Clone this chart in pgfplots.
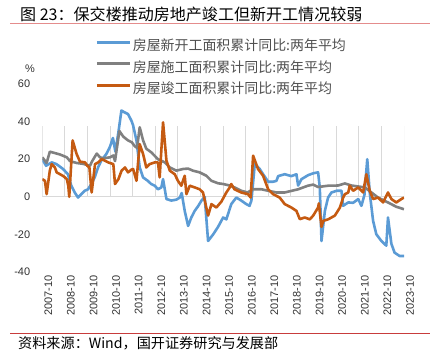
\documentclass[border=0pt]{standalone}
\usepackage{pgfplots}
\pgfplotsset{compat=1.18}
\usepackage{fontspec}
\setmainfont{Liberation Sans}
\newfontfamily\cjk{Noto Sans CJK SC}
\definecolor{sblue}{RGB}{91,155,213}
\definecolor{sgray}{RGB}{128,128,128}
\definecolor{sorange}{RGB}{197,90,17}
\definecolor{zeroc}{RGB}{217,217,217}
\definecolor{ticktext}{RGB}{50,50,50}
\definecolor{legtext}{RGB}{80,80,80}
\definecolor{titleline}{RGB}{228,140,140}
\definecolor{srcline}{RGB}{200,60,60}
\begin{document}
\begin{tikzpicture}[x=1bp,y=1bp]
\useasboundingbox (0,0) rectangle (430,359);
\node[anchor=west, inner sep=0pt] at (20,345) {\cjk\fontsize{16.1}{16}\selectfont 图 23：保交楼推动房地产竣工但新开工情况较弱};
\draw[titleline, line width=1.6bp] (10,335.5) -- (430,335.5);
\node[anchor=center, inner sep=0pt, text=ticktext] at (30,290.5) {\fontsize{11}{11}\selectfont\%};
\draw[srcline, line width=0.9bp] (10,26) -- (430,26);
\node[anchor=west, inner sep=0pt] at (18,16) {\cjk\fontsize{14.2}{14}\selectfont 资料来源：Wind，国开证券研究与发展部};
\begin{axis}[
  at={(42.3bp,87bp)}, anchor=south west, scale only axis,
  width=361.7bp, height=188bp,
  xmin=0, xmax=192, ymin=-40, ymax=60,
  axis line style={draw=none},
  xtick={0,12,...,192},
  xticklabels={2007-10,2008-10,2009-10,2010-10,2011-10,2012-10,2013-10,2014-10,2015-10,2016-10,2017-10,2018-10,2019-10,2020-10,2021-10,2022-10,2023-10},
  ytick={-40,-20,0,20,40,60},
  xtick style={draw=none}, ytick style={draw=none},
  /pgf/number format/assume math mode=true,
  x tick label style={rotate=90, anchor=east, font=\fontsize{11}{11}\selectfont, text=ticktext, yshift=-6bp},
  y tick label style={font=\fontsize{11}{11}\selectfont, text=ticktext, xshift=-8.6bp},
  legend style={at={(rel axis cs:0.146,1.245)}, anchor=north west, draw=none, fill=none,
    inner sep=0pt, row sep=4.5bp, font=\cjk\fontsize{14}{14}\selectfont, text=legtext,
    nodes={inner sep=1.5bp, text height=11bp, text depth=3bp}},
  legend cell align=left,
  legend image code/.code={\draw[#1, line width=3bp] (0bp,4.5bp) -- (33bp,4.5bp);},
  every axis plot/.append style={line width=2.6bp, line join=round, mark=none},
]
\draw[zeroc, line width=1bp] (axis cs:0,0) -- (axis cs:192,0);
\pgfplotsinvokeforeach{0,12,24,36,48,60,72,84,96,108,120,132,144,156,168,180,192}{
  \draw[zeroc, line width=1bp] (axis cs:#1,0) -- ++(0,-4.5bp);
}
\addplot[sblue] coordinates {
(0,20) (2,16.5) (5,18.3) (7.5,17.4) (11,14.8) (13.6,12) (15.4,5.9) (17.2,2.3) (19,-0.4) (20.7,1.4) (22.5,3.2) (24.3,4) (26,6.8) (27.8,10.3) (29.6,15.6) (31.3,19.2) (34,22.8) (35.8,26.3) (37.5,31.3) (38.8,24) (40.5,35) (42,45.9) (43.5,45) (45.5,44) (47.3,40.5) (48.2,38) (50,29.9) (51.7,15.6) (53.5,10.3) (56,8.5) (57.8,6.8) (59.7,5.9) (61.4,4) (63.2,5) (64.1,9.4) (65.9,-1.2) (68.5,-2) (71.2,-1.5) (73,-0.4) (74,2) (75.6,-7.5) (77.4,-15.5) (79.1,-11) (80.9,-7.5) (82.7,-5) (84.5,-2) (86.2,0) (88,-23.5) (90.7,-20) (93.3,-16) (96,-11) (97.7,-12) (100.3,-3.9) (103,-0.4) (105.6,-2) (108.3,-3.9) (110,-4.8) (111,-2) (112.8,17.4) (115.4,14.8) (117.2,12) (119.9,8) (122.5,8) (124.3,8.5) (125.2,11) (128.7,12) (132.2,11) (134.9,12) (135.8,6) (137.6,9.4) (141.1,11.5) (143.8,12.5) (146.4,13) (147.3,5) (148.2,-23.5) (150,-7.5) (151.7,-0.4) (153.5,2.3) (156.2,3.2) (158.8,3.2) (159.7,-4.8) (162.4,-3) (165,-3.2) (167.7,-1.2) (169.4,-4.8) (171,1) (172.5,20) (173.8,2.3) (175.6,-12.8) (177.3,-19.9) (180,-23.5) (182.6,-26) (183.5,-11) (185.3,-25) (187,-29.7) (189.7,-31.5) (192,-31.5)
};
\addlegendentry{房屋新开工面积累计同比:两年平均}
\addplot[sgray] coordinates {
(0,21) (2.3,18) (4,24) (7.6,23) (9.4,22.5) (13,21) (14.7,19) (18.2,18) (21.8,17.5) (25.3,16.5) (26.5,19) (28.9,23) (30.6,21) (32.4,20.5) (36,21) (37.7,22) (38.6,19) (40.9,35) (43,32) (45.5,30) (47.5,29) (49,27) (50.3,26) (51.7,37) (53.5,30) (55.2,25.6) (57.9,23.6) (61.4,20) (65,18.3) (67.7,15.6) (71.2,13.9) (74.7,14.8) (77.4,15) (80,13.9) (83.5,13) (87.1,11.2) (89.8,8.5) (93.3,7.2) (96,6.8) (99.5,6) (102,5) (105.6,3.2) (109,2.3) (111.7,4) (116.3,4) (119.9,3.2) (124.3,2.3) (128.7,2.3) (135.8,4) (141,5.9) (143.8,6.5) (146.4,5.2) (151.7,5.9) (157,6) (160.6,7.1) (164.1,6) (171.2,5) (174.7,2.3) (178.2,-0.4) (183.5,-3) (187.9,-5.3) (192,-6.6)
};
\addlegendentry{房屋施工面积累计同比:两年平均}
\addplot[sorange] coordinates {
(0,9.4) (1.4,8.5) (2.3,1.4) (4,14) (5,17.4) (6.7,15.6) (7.6,13) (9.4,12) (11.2,11) (13,9.4) (13.8,5.9) (14.3,0) (16.1,30) (18.2,22.8) (20,18.7) (22.7,18.3) (23.9,16.5) (25,15.6) (26.2,2.3) (28,17.4) (29.7,18.3) (31.5,20) (33.3,19.2) (35,18.3) (37.7,17.4) (38.6,6.8) (40.4,9.4) (42.1,13.9) (43.9,15.6) (45.5,13) (47.4,14.5) (48.2,14.8) (50,8.5) (51.7,28) (53.5,22.8) (55.2,15.6) (57,17.4) (59.7,18.3) (61.4,18.3) (62.3,10.3) (64.1,39.6) (65.9,19.2) (67.7,13.9) (70.3,12) (72,8.5) (73.8,5.9) (75.6,11.2) (76.5,1.4) (78.3,5.9) (80.9,5) (83.5,4) (85.3,2.3) (88,-10) (89.8,-3.9) (92.4,-5.7) (95.1,-2.5) (97.7,2.3) (99.5,5) (100.3,6.8) (102,4) (105.6,2.3) (109.2,1.4) (110.6,-0.4) (111.9,21.9) (114.5,14.8) (117.2,11.2) (119.9,4) (122.5,1.4) (126,-0.4) (128.7,-3.9) (132.2,-5.7) (134.9,-7.5) (136.7,-11.9) (139.3,-11) (142,-12) (143.8,-10) (146.4,-5.7) (146.8,-3.5) (148.2,-16) (149.1,-12.8) (151.7,-12) (155.3,-10) (158,-5.7) (159.7,-0.4) (160.6,1.4) (162.4,2.3) (163.2,5.9) (165,3.2) (167.7,5) (170.3,2.3) (172,12) (173.8,3.2) (175.6,-1.2) (178.2,-0.4) (180.9,-3) (183.5,2.3) (185.3,-1.2) (187.9,-3) (190.6,-1.2) (192,-0.4)
};
\addlegendentry{房屋竣工面积累计同比:两年平均}
\end{axis}
\end{tikzpicture}
\end{document}
